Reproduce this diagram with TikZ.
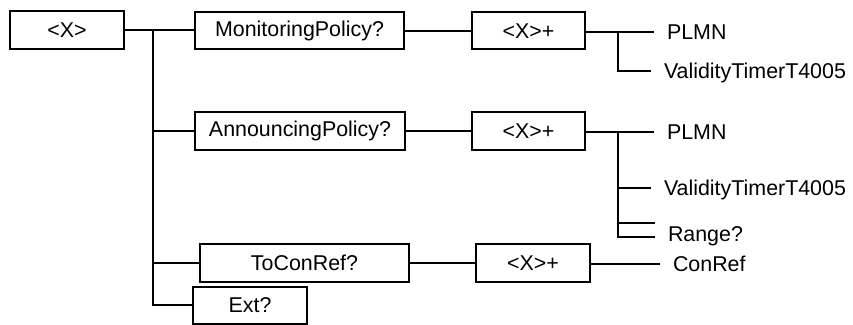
\documentclass[tikz,border=0pt]{standalone}
\usepackage{fontspec}
\setmainfont{Liberation Sans}

\begin{document}
\begin{tikzpicture}[x=0.5pt, y=-0.5pt, line width=1pt,
    elem/.style={draw, line width=1pt, inner sep=0pt, minimum height=19pt,
        font=\fontsize{10.7}{13}\selectfont},
    leaf/.style={anchor=west, inner xsep=6pt, inner ysep=0pt,
        text height=9.7pt, text depth=2pt, font=\fontsize{10.7}{13}\selectfont}]
    \useasboundingbox (0,0) rectangle (853,325);

    % Root element and its children
    \node[elem, minimum width=57pt] (root) at (67,30) {<X>};
    \node[elem, minimum width=104.5pt, minimum height=18.5pt] (mon) at (299.5,31) {MonitoringPolicy?};
    \node[elem, minimum width=105pt] (ann) at (300,131) {AnnouncingPolicy?};
    \node[elem, minimum width=104.5pt] (tcr) at (304.5,263) {ToConRef?};
    \node[elem, minimum width=57pt, minimum height=18.5pt] (ext) at (250,305.5) {Ext?};

    % Repeated elements
    \node[elem, minimum width=56.5pt, minimum height=18.5pt] (monx) at (528.5,31) {<X>+};
    \node[elem, minimum width=56.5pt] (annx) at (528.5,131) {<X>+};
    \node[elem, minimum width=57pt] (tcrx) at (533,263) {<X>+};

    % Leaves
    \node[leaf] (plmna) at (654,32) {PLMN};
    \node[leaf] (vta) at (651,71) {ValidityTimerT4005};
    \node[leaf] (plmnb) at (654,132) {PLMN};
    \node[leaf] (vtb) at (651,188) {ValidityTimerT4005};
    \node[leaf] (rng) at (655,234) {Range?};
    \node[leaf] (conref) at (660,264) {ConRef};

    % Trunk
    \coordinate (trunk) at (153,31);
    \draw (root.east) -- (root.east -| mon.west);
    \draw (trunk) |- (ext.west);
    \draw (trunk |- ann.west) -- (ann.west);
    \draw (trunk |- tcr.west) -- (tcr.west);

    % Monitoring branch
    \coordinate (ba) at (618,32);
    \draw (mon.east) -- (monx.west);
    \draw (monx.east |- plmna.west) -- (plmna.west);
    \draw (ba) |- (vta.west);

    % Announcing branch
    \coordinate (bb) at (618,132);
    \draw (ann.east) -- (annx.west);
    \draw (annx.east |- plmnb.west) -- (plmnb.west);
    \draw (bb |- vtb.west) -- (vtb.west);
    \draw (bb) |- ([yshift=-1.5pt]rng.west);
    \draw (bb |- rng.west) ++(0,-11) -- ([yshift=5.5pt]rng.west);

    % ToConRef branch
    \draw (tcr.east) -- (tcrx.west);
    \draw (tcrx.east |- conref.west) -- (conref.west);
\end{tikzpicture}
\end{document}
